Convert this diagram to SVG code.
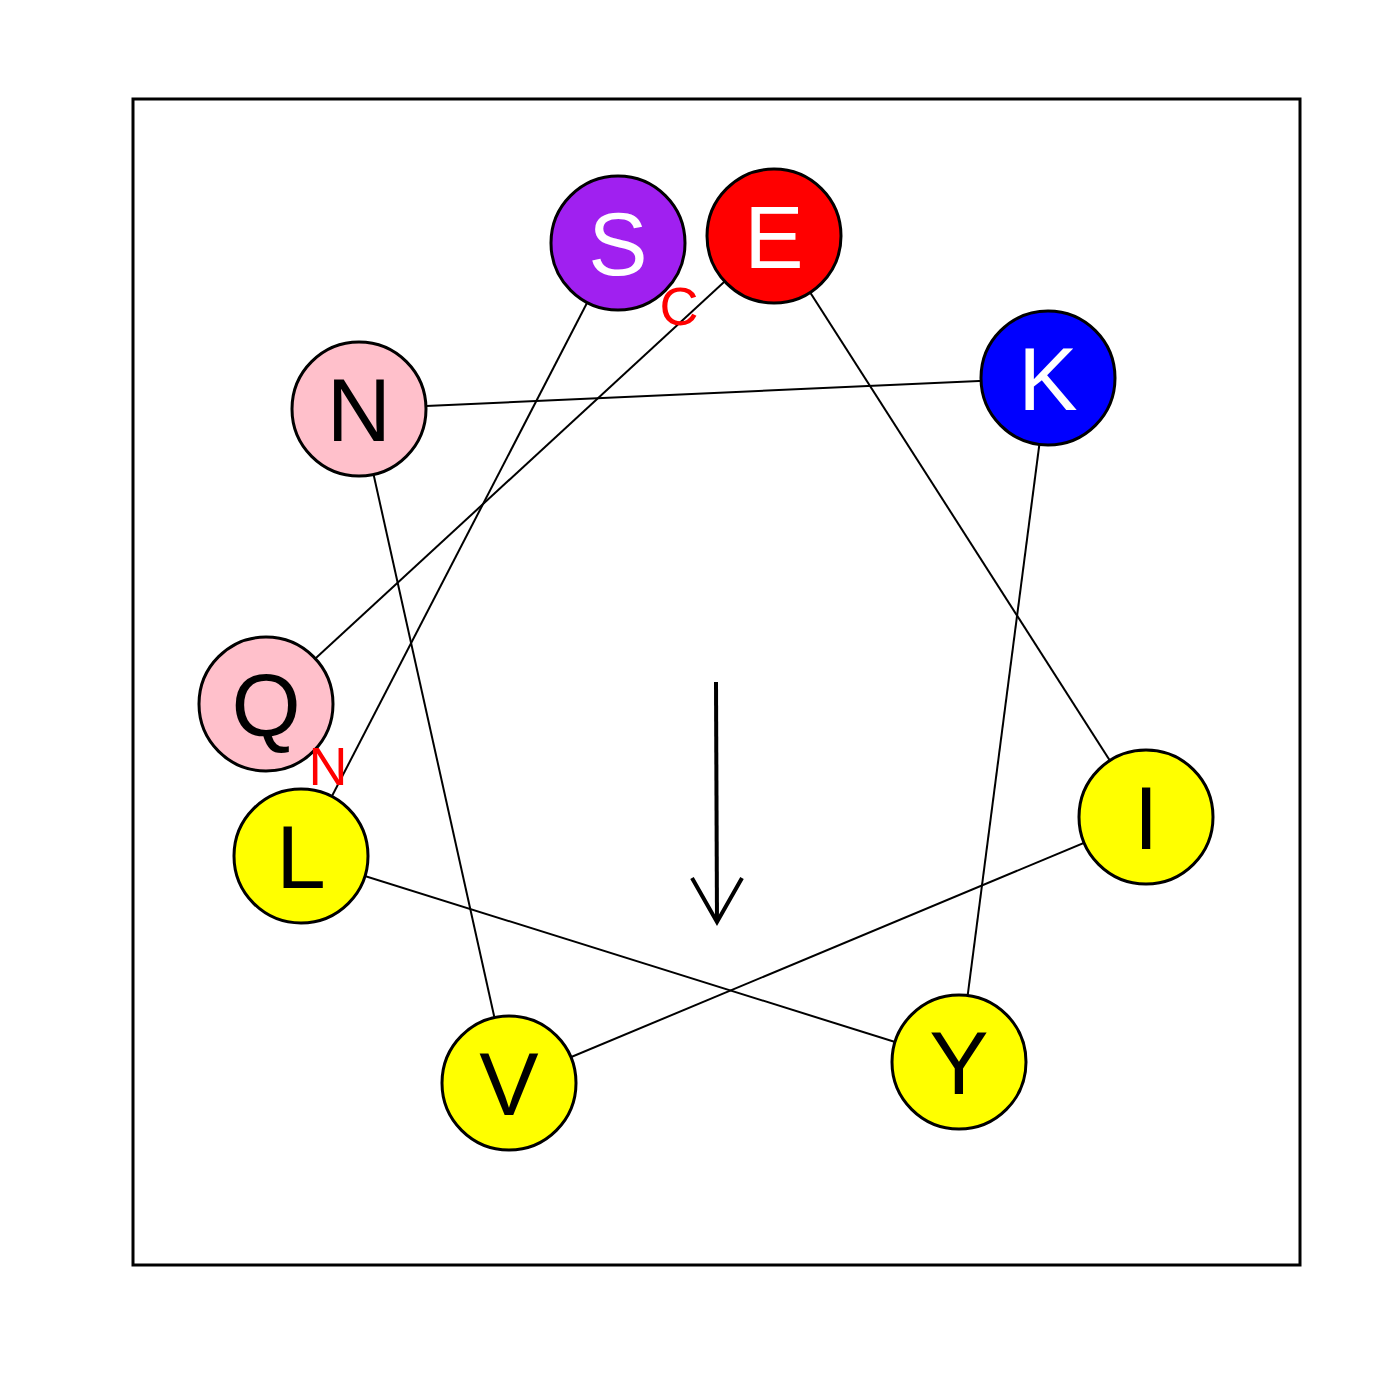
<svg xmlns="http://www.w3.org/2000/svg" width="1400" height="1400" viewBox="0 0 1400 1400">
<style>
.c{stroke:#000;stroke-width:3}
.t{font-family:"Liberation Sans",Arial,sans-serif;font-size:89px;text-anchor:middle}
.lbl{font-family:"Liberation Sans",Arial,sans-serif;font-size:54px;text-anchor:middle;fill:#FF0000}
.ln{stroke:#000;stroke-width:2;fill:none}
</style>
<rect width="1400" height="1400" fill="#fff"/>
<rect x="133" y="99" width="1167" height="1166" fill="none" stroke="#000" stroke-width="3"/>
<g id="connectors">
<line class="ln" x1="301" y1="856" x2="618" y2="243"/>
<line class="ln" x1="266" y1="704" x2="774" y2="236"/>
<line class="ln" x1="359" y1="409" x2="1048" y2="378"/>
<line class="ln" x1="359" y1="409" x2="509" y2="1083"/>
<line class="ln" x1="774" y1="236" x2="1146" y2="817"/>
<line class="ln" x1="1048" y1="378" x2="959" y2="1062"/>
<line class="ln" x1="1146" y1="817" x2="509" y2="1083"/>
<line class="ln" x1="301" y1="856" x2="959" y2="1062"/>
</g>
<g id="node-S"><circle class="c" cx="618" cy="243" r="67" fill="#A020F0"/><text class="t" x="618" y="275" fill="#fff">S</text></g>
<g id="node-E"><circle class="c" cx="774" cy="236" r="67" fill="#FF0000"/><text class="t" x="774" y="268" fill="#fff">E</text></g>
<g id="node-K"><circle class="c" cx="1048" cy="378" r="67" fill="#0000FF"/><text class="t" x="1048" y="410" fill="#fff">K</text></g>
<g id="node-N"><circle class="c" cx="359" cy="409" r="67" fill="#FFC0CB"/><text class="t" x="359" y="441" fill="#000">N</text></g>
<g id="node-Q"><circle class="c" cx="266" cy="704" r="67" fill="#FFC0CB"/><text class="t" x="266" y="736" fill="#000">Q</text></g>
<g id="node-L"><circle class="c" cx="301" cy="856" r="67" fill="#FFFF00"/><text class="t" x="301" y="888" fill="#000">L</text></g>
<g id="node-I"><circle class="c" cx="1146" cy="817" r="67" fill="#FFFF00"/><text class="t" x="1146" y="849" fill="#000">I</text></g>
<g id="node-Y"><circle class="c" cx="959" cy="1062" r="67" fill="#FFFF00"/><text class="t" x="959" y="1094" fill="#000">Y</text></g>
<g id="node-V"><circle class="c" cx="509" cy="1083" r="67" fill="#FFFF00"/><text class="t" x="509" y="1115" fill="#000">V</text></g>
<text class="lbl" x="679" y="325">C</text>
<text class="lbl" x="328" y="785">N</text>
<g id="arrow" stroke="#000" stroke-width="4" fill="none">
<line x1="716" y1="682" x2="717" y2="922"/>
<polyline points="692,878 717,922 742,878"/>
</g>
</svg>
